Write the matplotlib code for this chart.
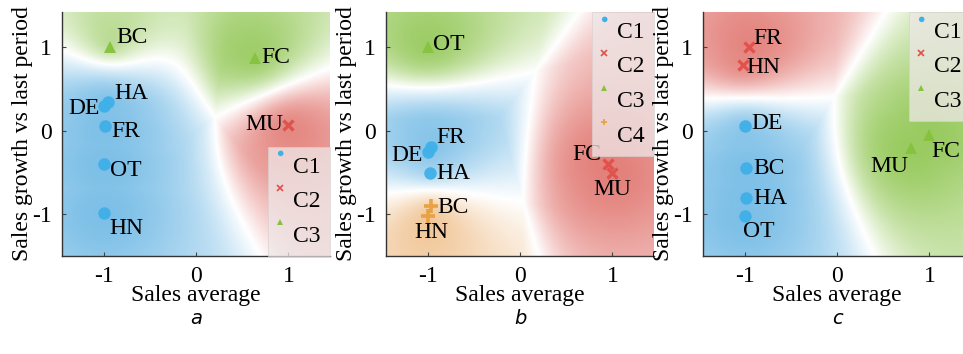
import numpy as np
import matplotlib
matplotlib.use('Agg')
import matplotlib.pyplot as plt
from matplotlib.lines import Line2D
from matplotlib.markers import MarkerStyle
from matplotlib.transforms import Affine2D

plt.rcParams['font.family'] = ['Liberation Serif', 'DejaVu Serif']
plt.rcParams['axes.unicode_minus'] = False

# panel a
a_names = ['DE', 'HA', 'FR', 'OT', 'HN', 'MU', 'BC', 'FC']
a_x = [-1.0, -0.95, -0.98, -1.0, -1.0, 1.0, -0.93, 0.64]
a_y = [0.30, 0.34, 0.05, -0.40, -0.99, 0.07, 1.0, 0.87]
a_cls = [0, 0, 0, 0, 0, 1, 2, 2]

# panel b
b_names = ['FR', 'DE', 'HA', 'FC', 'MU', 'OT', 'BC', 'HN']
b_x = [-0.96, -1.0, -0.97, 0.95, 1.0, -1.0, -0.96, -1.0]
b_y = [-0.20, -0.26, -0.51, -0.40, -0.51, 1.0, -0.90, -1.02]
b_cls = [0, 0, 0, 1, 1, 2, 3, 3]

# panel c
c_names = ['DE', 'BC', 'HA', 'OT', 'FR', 'HN', 'MU', 'FC']
c_x = [-1.0, -0.98, -0.98, -1.0, -0.95, -1.02, 0.80, 1.0]
c_y = [0.05, -0.45, -0.80, -1.02, 1.0, 0.78, -0.21, -0.05]
c_cls = [0, 0, 0, 0, 1, 1, 2, 2]

class_labels = ['C1', 'C2', 'C3', 'C4']

# label offsets (pixels) and alignment
a_off = [(-4, -3, 'right'), (6, 9, 'left'), (6, -5, 'left'), (6, -6, 'left'),
         (6, -15, 'left'), (-5, 0, 'right'), (6, 10, 'left'), (6, 0, 'left')]
b_off = [(5, 10, 'left'), (-5, -3, 'right'), (6, 0, 'left'), (-7, 10, 'right'),
         (0, -16, 'center'), (5, 3, 'left'), (6, -2, 'left'), (4, -17, 'center')]
c_off = [(7, 3, 'left'), (7, 0, 'left'), (7, -1, 'left'), (-2, -16, 'left'),
         (4, 9, 'left'), (4, -2, 'left'), (-3, -18, 'right'), (2, -17, 'left')]

mk_colors = ['#3fb0e8', '#e0504a', '#86c23e', '#e8a040']
bg_colors = np.array([[118, 188, 230], [226, 122, 116], [148, 200, 88], [236, 178, 115]]) / 255.0
markers = ['o', 'x', '^', '+']
mk_size = [9, 7, 9, 10]
mk_ew = [0, 2.4, 0, 2.6]

xlim = (-1.45, 1.45)
ylim = (-1.5, 1.42)
FS = 17


def background(ax, xs, ys, cls, ncls, tau=0.3, w=0.5):
    gx = np.linspace(xlim[0], xlim[1], 300)
    gy = np.linspace(ylim[0], ylim[1], 300)
    X, Y = np.meshgrid(gx, gy)
    acc = np.zeros((ncls,) + X.shape)
    dmin = np.full(X.shape, np.inf)
    for x, y, c in zip(xs, ys, cls):
        d = np.sqrt((X - x) ** 2 + (Y - y) ** 2)
        acc[c] += np.exp(-d / tau)
        dmin = np.minimum(dmin, d)
    # soft-min distance to each class
    dist = -tau * np.log(acc + 1e-300)
    srt = np.sort(dist, axis=0)
    k = dist.argmin(axis=0)
    s = np.tanh((srt[1] - srt[0]) / w) * (0.5 + 0.45 * np.exp(-(dmin / 0.9) ** 2))
    img = 1 - s[..., None] * (1 - bg_colors[k])
    ax.imshow(img, extent=(xlim[0], xlim[1], ylim[0], ylim[1]), origin='lower',
              aspect='auto', interpolation='bilinear', zorder=0)


def panel(ax, names, xs, ys, cls, offs, ncls, legend_loc):
    background(ax, xs, ys, cls, ncls)
    xs = np.array(xs)
    ys = np.array(ys)
    cls = np.array(cls)
    for c in range(ncls):
        m = cls == c
        ax.plot(xs[m], ys[m], ls='none', marker=markers[c], ms=mk_size[c],
                color=mk_colors[c], mew=mk_ew[c], alpha=0.95, zorder=3)
    for n, x, y, (dx, dy, ha) in zip(names, xs, ys, offs):
        ax.annotate(n, (x, y), xytext=(dx, dy), textcoords='offset pixels',
                    ha=ha, va='center', fontsize=FS, zorder=4)
    handles = []
    for c in range(ncls):
        mst = MarkerStyle(markers[c], transform=Affine2D().translate(-0.5, 2.0))
        handles.append(Line2D([], [], ls='none', marker=mst, ms=4,
                              color=mk_colors[c], mew=1.2 if c in (1, 3) else 0))
    leg = ax.legend(handles, class_labels[:ncls], loc=legend_loc, fontsize=FS,
                    frameon=True, fancybox=False, borderaxespad=0,
                    handlelength=0.5, handletextpad=0.15, labelspacing=0.55,
                    borderpad=0.4)
    leg.get_frame().set_facecolor('#eee8e8')
    leg.get_frame().set_alpha(0.75)
    leg.get_frame().set_edgecolor('#d8d0d0')
    leg.get_frame().set_linewidth(0.6)
    ax.set_xlim(xlim)
    ax.set_ylim(ylim)
    ax.set_xticks([-1, 0, 1])
    ax.set_yticks([-1, 0, 1])
    ax.tick_params(direction='in', length=3, labelsize=FS, pad=7, color='#444444')
    ax.set_xlabel('Sales average', fontsize=FS, labelpad=-1)
    ax.set_ylabel('Sales growth vs last period', fontsize=FS, labelpad=0)
    for sp in ['top', 'right']:
        ax.spines[sp].set_visible(False)
    for sp in ['left', 'bottom']:
        ax.spines[sp].set_color('#333333')
        ax.spines[sp].set_linewidth(1.0)


fig = plt.figure(figsize=(9.63, 3.54), dpi=100)
W, H = 963.0, 354.0
bottom = (H - 256) / H
height = (256 - 12) / H
width = 268 / W
ax_a = fig.add_axes([62 / W, bottom, width, height])
ax_b = fig.add_axes([386 / W, bottom, width, height])
ax_c = fig.add_axes([703 / W, bottom, width, height])

panel(ax_a, a_names, a_x, a_y, a_cls, a_off, 3, 'lower right')
panel(ax_b, b_names, b_x, b_y, b_cls, b_off, 4, 'upper right')
panel(ax_c, c_names, c_x, c_y, c_cls, c_off, 3, 'upper right')

for ax, letter in zip([ax_a, ax_b, ax_c], ['a', 'b', 'c']):
    x0 = ax.get_position().x0 + ax.get_position().width * (0 - xlim[0]) / (xlim[1] - xlim[0])
    fig.text(x0, (H - 318) / H, letter, ha='center', va='center', fontsize=14,
             style='italic', family='DejaVu Sans')

fig.savefig('out.png', dpi=100)
